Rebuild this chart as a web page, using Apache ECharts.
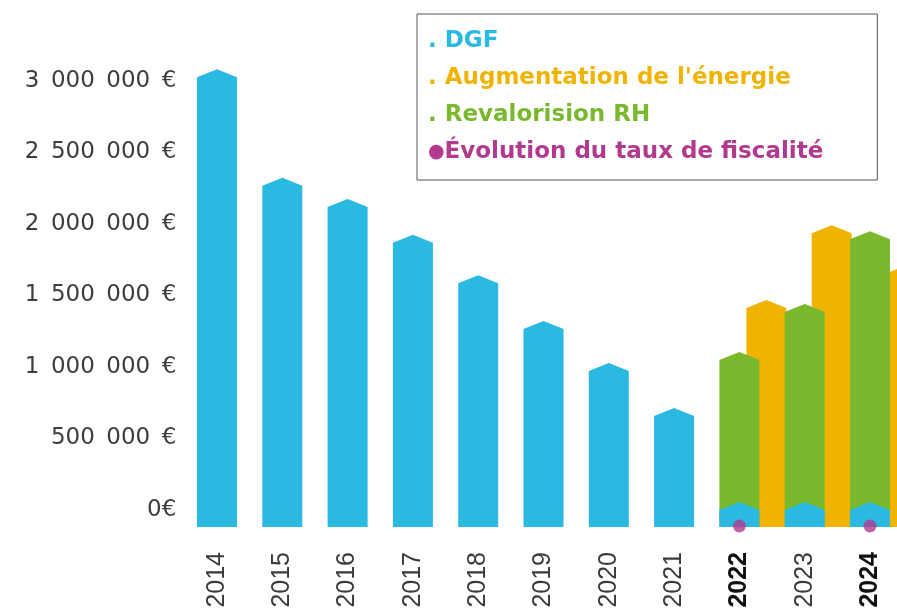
<!DOCTYPE html>
<html>
<head>
<meta charset="utf-8">
<script src="https://cdn.jsdelivr.net/npm/echarts@6/dist/echarts.min.js"></script>
<style>html,body{margin:0;padding:0;background:#fff}#c{width:897px;height:611px}</style>
</head>
<body>
<div id="c"></div>
<script>
const years = ['2014','2015','2016','2017','2018','2019','2020','2021','2022','2023','2024'];
const boldYears = ['2022','2024'];
const dgf = [3026000, 2268000, 2119000, 1869000, 1585000, 1266000, 972000, 657000, 0, 0, 0];
const revalorisationRH = [null, null, null, null, null, null, null, null, 1049000, 1385000, 1893000];
const augmentationEnergie = [null, null, null, null, null, null, null, null, 1413000, 1935000, 1630000];
const tauxFiscalite = [null, null, null, null, null, null, null, null, 0, null, 0];

const BLUE = '#29b9e1', ORANGE = '#f0b400', GREEN = '#7ab82e', PURPLE = '#b13a8e';

function pairs(arr) {
  const out = [];
  arr.forEach((v, i) => { if (v !== null) out.push([i, v]); });
  return out;
}
function house(offset, width) {
  return function (params, api) {
    const idx = api.value(0), v = api.value(1);
    const top = api.coord([idx, v]);
    const zero = api.coord([idx, 0]);
    const cx = top[0] + offset, hw = width / 2, yb = zero[1] + 17;
    return {
      type: 'polygon',
      shape: { points: [[cx - hw, yb], [cx - hw, top[1]], [cx, top[1] - 8], [cx + hw, top[1]], [cx + hw, yb]] },
      style: api.style()
    };
  };
}
function fmtEuro(v) {
  if (v === 0) return '0€';
  return String(v).replace(/\B(?=(\d{3})+(?!\d))/g, '\u2002') + '\u2002€';
}

const chart = echarts.init(document.getElementById('c'), null, { renderer: 'canvas' });
chart.setOption({
  animation: false,
  backgroundColor: '#fff',
  grid: { left: 184.35, right: -5.65, top: 81, bottom: 101, outerBoundsMode: 'none', containLabel: false },
  legend: {
    orient: 'vertical', left: 417, top: 14,
    itemWidth: 0, itemHeight: 0, itemGap: 14,
    padding: [16, 54, 16, 6],
    borderColor: '#555', borderWidth: 1,
    selectedMode: false,
    textStyle: { fontFamily: 'DejaVu Sans', fontWeight: 'bold', fontSize: 23, rich: { d: { fontSize: 19, fontFamily: 'DejaVu Sans' } } },
    formatter: function (name) { return (name.indexOf('Évolution') === 0 ? '{d|●}' : '. ') + name; },
    data: [
      { name: 'DGF', icon: 'none', textStyle: { color: BLUE } },
      { name: "Augmentation de l'énergie", icon: 'none', textStyle: { color: ORANGE } },
      { name: 'Revalorision RH', icon: 'none', textStyle: { color: GREEN } },
      { name: 'Évolution du taux de fiscalité', icon: 'none', textStyle: { color: PURPLE } }
    ]
  },
  xAxis: {
    type: 'category', data: years,
    axisLine: { show: false }, axisTick: { show: false },
    axisLabel: {
      rotate: 90, margin: 42, interval: 0,
      fontFamily: 'Liberation Sans', fontSize: 25, color: '#3a3a3a',
      formatter: function (v) { return boldYears.indexOf(v) >= 0 ? '{b|' + v + '}' : v; },
      rich: { b: { fontFamily: 'Liberation Sans', fontSize: 25, fontWeight: 'bold', color: '#111' } }
    }
  },
  yAxis: {
    type: 'value', min: 0, max: 3000000, interval: 500000,
    splitLine: { show: false }, axisLine: { show: false }, axisTick: { show: false },
    axisLabel: { margin: 8, fontFamily: 'DejaVu Sans', fontSize: 23, color: '#3d3d3d', formatter: fmtEuro }
  },
  series: [
    { type: 'custom', name: "Augmentation de l'énergie", renderItem: house(27, 40), data: pairs(augmentationEnergie), encode: { x: 0, y: 1 }, itemStyle: { color: ORANGE }, clip: false },
    { type: 'custom', name: 'Revalorision RH', renderItem: house(0, 40), data: pairs(revalorisationRH), encode: { x: 0, y: 1 }, itemStyle: { color: GREEN }, clip: false },
    { type: 'custom', name: 'DGF', renderItem: house(0, 40), data: pairs(dgf), encode: { x: 0, y: 1 }, itemStyle: { color: BLUE }, clip: false },
    { type: 'scatter', name: 'Évolution du taux de fiscalité', data: pairs(tauxFiscalite), symbol: 'circle', symbolSize: 13, symbolOffset: [0, 16], itemStyle: { color: PURPLE }, z: 5 }
  ]
});
</script>
</body>
</html>
